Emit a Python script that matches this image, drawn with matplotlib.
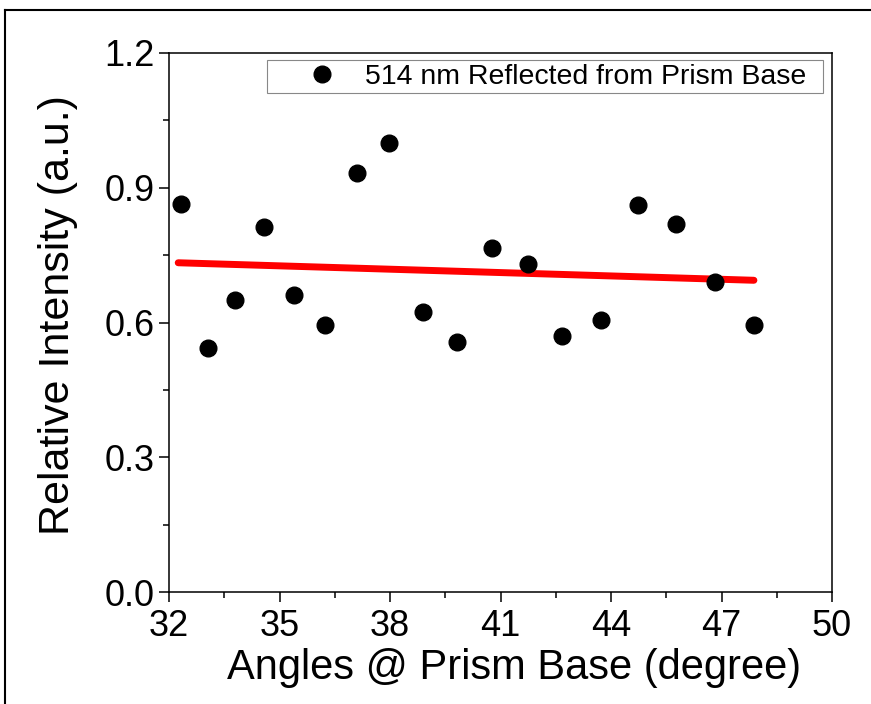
import numpy as np
import matplotlib.pyplot as plt
from matplotlib.lines import Line2D
from matplotlib.ticker import FixedLocator, MultipleLocator

plt.rcParams['font.family'] = ['Liberation Sans', 'DejaVu Sans']

# angle (degree) and relative intensity
angles = [32.32, 33.05, 33.79, 34.57, 35.39, 36.24, 37.10, 37.97, 38.89,
          39.82, 40.76, 41.74, 42.66, 43.73, 44.74, 45.77, 46.82, 47.88]
intensity = [0.864, 0.543, 0.650, 0.813, 0.662, 0.595, 0.932, 1.000, 0.623,
             0.556, 0.766, 0.730, 0.570, 0.606, 0.862, 0.819, 0.690, 0.594]

# linear fit line end points
fit_x = [32.25, 47.88]
fit_y = [0.733, 0.694]

x_ticks = [32, 35, 38, 41, 44, 47, 50]

fig = plt.figure(figsize=(8.71, 7.04), dpi=100)
ax = fig.add_axes([169 / 871, 1 - 592 / 704, 663 / 871, 539 / 704])

ax.plot(fit_x, fit_y, color='red', lw=5, solid_capstyle='round', zorder=2)
ax.plot(angles, intensity, 'o', color='black', ms=12, ls='none', zorder=3,
        label='514 nm Reflected from Prism Base')

ax.set_xlim(32, 50)
ax.set_ylim(0, 1.2)
ax.xaxis.set_major_locator(FixedLocator(x_ticks))
ax.xaxis.set_minor_locator(FixedLocator(np.arange(33.5, 50, 3)))
ax.yaxis.set_major_locator(MultipleLocator(0.3))
ax.yaxis.set_minor_locator(MultipleLocator(0.15))
ax.yaxis.set_major_formatter(plt.FormatStrFormatter('%.1f'))

ax.tick_params(which='major', direction='out', length=7, width=1.1, labelsize=26, pad=3)
ax.tick_params(which='minor', direction='out', length=4, width=1.1)
ax.tick_params(axis='x', pad=5)
ax.tick_params(top=False, right=False)
for s in ax.spines.values():
    s.set_linewidth(1.1)

ax.set_xlabel('Angles @ Prism Base (degree)', fontsize=30, labelpad=3, x=0.52)
ax.set_ylabel('Relative Intensity (a.u.)', fontsize=31, labelpad=19, y=0.514)

leg = ax.legend(loc='upper left', bbox_to_anchor=(0.148, 0.5, 0.838, 0.487),
                mode='expand', borderaxespad=0, fancybox=False, framealpha=1,
                edgecolor='#888888', fontsize=20.5, borderpad=0.13,
                handlelength=3.6, handletextpad=-0.3)
leg.get_frame().set_linewidth(0.8)

# outer frame (partly cut by image edges)
fig.add_artist(Line2D([5 / 871, 1], [1 - 10 / 704, 1 - 10 / 704], color='black', lw=1.5))
fig.add_artist(Line2D([5 / 871, 5 / 871], [0, 1 - 10 / 704], color='black', lw=1.5))

fig.savefig('out.png', dpi=100)
